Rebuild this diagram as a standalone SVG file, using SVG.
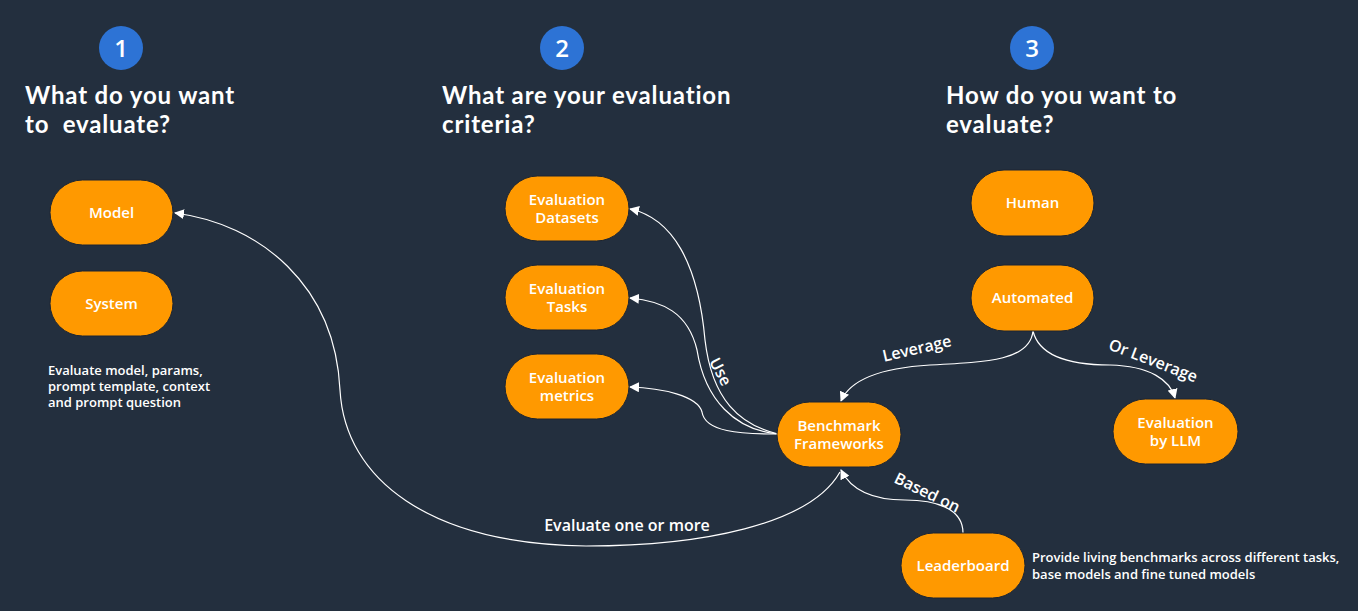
<svg xmlns="http://www.w3.org/2000/svg" width="1358" height="611" viewBox="0 0 1358 611">
<defs>
<marker id="ah" markerWidth="10" markerHeight="10" refX="9" refY="5" orient="auto" markerUnits="userSpaceOnUse">
<path d="M0,0 L10,5 L0,10 Z" fill="#ffffff"/>
</marker>
<style>
.bg{fill:#232f3e}
.pill{fill:#ff9900;stroke:#1c2532;stroke-width:1}
.lbl{font-family:"Open Sans","Noto Sans",sans-serif;font-weight:600;font-size:15px;fill:#ffffff;text-anchor:middle}
.head{font-family:Lato,"Open Sans",sans-serif;font-weight:700;font-size:24px;letter-spacing:0.85px;fill:#ffffff}
.num{font-family:"Open Sans","Noto Sans",sans-serif;font-weight:600;font-size:24px;fill:#ffffff;text-anchor:middle}
.circ{fill:#2d73d5}
.note{font-family:"Open Sans","Noto Sans",sans-serif;font-weight:600;font-size:13px;fill:#ffffff}
.elbl{font-family:"Open Sans","Noto Sans",sans-serif;font-weight:600;font-size:16px;fill:#ffffff;text-anchor:middle}
.edge{fill:none;stroke:#ffffff;stroke-width:1.2}
</style>
</defs>
<rect class="bg" x="0" y="0" width="1358" height="611"/>

<g id="step1">
<circle class="circ" cx="121" cy="48" r="22"/>
<text class="num" x="121" y="57">1</text>
<text class="head" x="25" y="104">What do you want</text>
<text class="head" x="25" y="133">to&#160; evaluate?</text>
</g>
<g id="step2">
<circle class="circ" cx="562" cy="48" r="22"/>
<text class="num" x="562" y="57">2</text>
<text class="head" x="442" y="104">What are your evaluation</text>
<text class="head" x="442" y="133">criteria?</text>
</g>
<g id="step3">
<circle class="circ" cx="1032" cy="48" r="22"/>
<text class="num" x="1032" y="57">3</text>
<text class="head" x="946" y="104">How do you want to</text>
<text class="head" x="946" y="133">evaluate?</text>
</g>

<g id="connectors">
<path class="edge" marker-end="url(#ah)" d="M778,434 C740,425 712,400 705,340 C698,262 672,218 630,209"/>
<path class="edge" marker-end="url(#ah)" d="M778,434 C735,430 705,400 697,350 C688,312 662,301 630,298"/>
<path class="edge" marker-end="url(#ah)" d="M778,434 C740,434 705,432 702,412 C698,396 662,388 630,387"/>
<path class="edge" marker-end="url(#ah)" d="M840,472 C810,525 700,546 586,546 C430,544 345,480 340,390 C335,285 260,224 175,213"/>
<path class="edge" marker-end="url(#ah)" d="M963,533 C963,508 935,500 905,500 C875,500 852,492 841,470"/>
<path class="edge" marker-end="url(#ah)" d="M1033,331 C1030,360 990,362 930,365 C880,368 850,380 841,401"/>
<path class="edge" marker-end="url(#ah)" d="M1033,331 C1040,360 1080,365 1110,365 C1150,366 1170,380 1175,398"/>
<text class="elbl" transform="translate(720,372) rotate(62)" y="5">Use</text>
<text class="elbl" transform="translate(917,349) rotate(-13)" y="5">Leverage</text>
<text class="elbl" transform="translate(1153,361) rotate(21)" y="5">Or Leverage</text>
<text class="elbl" transform="translate(927,493) rotate(26)" y="5">Based on</text>
<text class="elbl" x="627" y="531">Evaluate one or more</text>
</g>

<g id="model"><rect class="pill" x="50" y="180" width="123" height="65" rx="32.5"/><text class="lbl" x="111.5" y="218">Model</text></g>
<g id="system"><rect class="pill" x="50" y="271" width="123" height="65" rx="32.5"/><text class="lbl" x="111.5" y="309">System</text></g>
<g id="system-note">
<text class="note" x="48" y="375">Evaluate model, params,</text>
<text class="note" x="48" y="391">prompt template, context</text>
<text class="note" x="48" y="407">and prompt question</text>
</g>
<g id="eval-datasets"><rect class="pill" x="505" y="176" width="124" height="65" rx="32.5"/><text class="lbl" x="567" y="205">Evaluation</text><text class="lbl" x="567" y="223">Datasets</text></g>
<g id="eval-tasks"><rect class="pill" x="505" y="265" width="124" height="65" rx="32.5"/><text class="lbl" x="567" y="294">Evaluation</text><text class="lbl" x="567" y="312">Tasks</text></g>
<g id="eval-metrics"><rect class="pill" x="505" y="354" width="124" height="65" rx="32.5"/><text class="lbl" x="567" y="383">Evaluation</text><text class="lbl" x="567" y="401">metrics</text></g>
<g id="human"><rect class="pill" x="971" y="170" width="123" height="66" rx="33"/><text class="lbl" x="1032.5" y="208">Human</text></g>
<g id="automated"><rect class="pill" x="971" y="265" width="123" height="66" rx="33"/><text class="lbl" x="1032.5" y="303">Automated</text></g>
<g id="benchmark"><rect class="pill" x="777" y="402" width="124" height="65" rx="32.5"/><text class="lbl" x="839" y="431">Benchmark</text><text class="lbl" x="839" y="449">Frameworks</text></g>
<g id="eval-llm"><rect class="pill" x="1113" y="399" width="125" height="65" rx="32.5"/><text class="lbl" x="1175.5" y="428">Evaluation</text><text class="lbl" x="1175.5" y="446">by LLM</text></g>
<g id="leaderboard"><rect class="pill" x="901" y="533" width="124" height="65" rx="32.5"/><text class="lbl" x="963" y="571">Leaderboard</text></g>
<g id="leaderboard-note">
<text class="note" x="1032" y="562">Provide living benchmarks across different tasks,</text>
<text class="note" x="1032" y="579">base models and fine tuned models</text>
</g>
</svg>
